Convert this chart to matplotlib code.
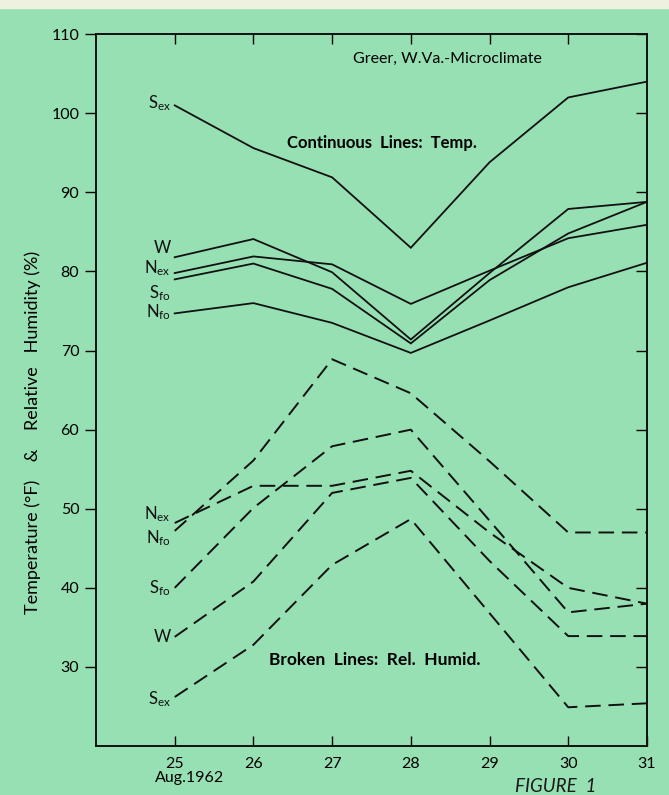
import matplotlib.pyplot as plt

# days of Aug. 1962
days = [25, 26, 27, 28, 29, 30, 31]

# temperature (F) - continuous lines
temp_s_ex = [101.0, 95.6, 91.9, 83.0, 93.8, 102.0, 104.0]
temp_w = [81.8, 84.1, 79.9, 71.4, 79.8, 87.9, 88.8]
temp_n_ex = [79.8, 81.9, 80.9, 75.9, 80.1, 84.2, 85.9]
temp_s_fo = [79.0, 81.0, 77.8, 70.9, 78.9, 84.8, 88.8]
temp_n_fo = [74.7, 76.0, 73.5, 69.7, 73.8, 78.0, 81.1]

# relative humidity (%) - broken lines
rh_n_ex = [48.2, 52.9, 52.9, 54.8, 47.0, 40.0, 38.0]
rh_n_fo = [47.2, 56.1, 68.9, 64.6, 56.0, 47.0, 47.0]
rh_s_fo = [40.0, 50.1, 57.9, 60.0, 48.5, 36.9, 38.0]
rh_w = [33.8, 40.8, 52.0, 53.9, 43.4, 33.9, 33.9]
rh_s_ex = [26.2, 32.8, 42.9, 48.7, 36.8, 24.9, 25.4]

temp_series = [temp_s_ex, temp_w, temp_n_ex, temp_s_fo, temp_n_fo]
rh_series = [rh_n_ex, rh_n_fo, rh_s_fo, rh_w, rh_s_ex]

temp_labels = [('S', 'ex', 101.3), ('W', '', 83.0), ('N', 'ex', 80.4),
               ('S', 'fo', 77.3), ('N', 'fo', 74.9)]
rh_labels = [('N', 'ex', 49.3), ('N', 'fo', 46.3), ('S', 'fo', 39.9),
             ('W', '', 33.8), ('S', 'ex', 25.9)]

bg = '#96e0b4'
plt.rcParams['font.family'] = ['Lato', 'DejaVu Sans']

fig = plt.figure(figsize=(6.69, 7.95), dpi=100, facecolor=bg)
ax = fig.add_axes([0.1435, 0.0616, 0.8235, 0.8954])
ax.set_facecolor(bg)

for s in temp_series:
    ax.plot(days, s, color='#111111', lw=1.3, solid_joinstyle='miter')
for s in rh_series:
    ax.plot(days, s, color='#111111', lw=1.4, dashes=(8, 4))

# series labels at the left ends
for name, sub, y in temp_labels + rh_labels:
    txt = r'$\mathregular{%s_{%s}}$' % (name, sub) if sub else name
    ax.text(24.95, y, txt, ha='right', va='center', fontsize=12, color='#111111')

ax.set_xlim(24, 31)
ax.set_ylim(20, 110)
ax.set_xticks(days)
ax.set_xticklabels(['25', '26', '27', '28', '29', '30', '31'])
ax.set_yticks(range(30, 111, 10))
ax.set_yticklabels(['30', '40', '50', '60', '70', '80', '90', '100', '110'])
ax.tick_params(axis='y', direction='out', length=8, width=1, labelsize=11.5, pad=4)
ax.tick_params(axis='x', direction='in', length=7, width=1, labelsize=11.5, pad=8,
               top=True)
ax.tick_params(axis='y', which='major', right=True)
for t in ax.yaxis.get_major_ticks():
    t.tick2line.set_marker(0)
    t.tick2line.set_markersize(8)
for t in ax.xaxis.get_major_ticks()[:-1]:
    t.tick2line.set_markersize(7)
ax.xaxis.get_major_ticks()[-1].tick2line.set_visible(False)
for sp in ax.spines.values():
    sp.set_linewidth(1.4)
    sp.set_color('#111111')

ax.text(0.466, 0.965, 'Greer, W.Va.-Microclimate', transform=ax.transAxes,
        fontsize=11.5, ha='left', va='center')
ax.text(26.43, 96.2, 'Continuous  Lines:  Temp.', fontsize=12,
        fontweight='bold', ha='left', va='center')
ax.text(26.2, 30.9, 'Broken  Lines:  Rel.  Humid.', fontsize=12.5,
        fontweight='bold', ha='left', va='center')

ax.set_ylabel('Temperature (°F)    &    Relative   Humidity (%)', fontsize=13)
ax.yaxis.set_label_coords(-0.10, 0.44)
fig.text(0.283, 0.022, 'Aug.1962', fontsize=11.5, ha='center', va='center')
fig.text(0.83, 0.011, 'FIGURE  1', fontsize=13.5, style='italic', ha='center',
         va='center', color='#1a1a1a')

# cream strip along the top edge of the scanned page
fig.patches.append(plt.Rectangle((0, 0.99), 1, 0.01, transform=fig.transFigure,
                                 color='#eef0e0', zorder=0))

fig.savefig('out.png', dpi=100, facecolor=bg)
